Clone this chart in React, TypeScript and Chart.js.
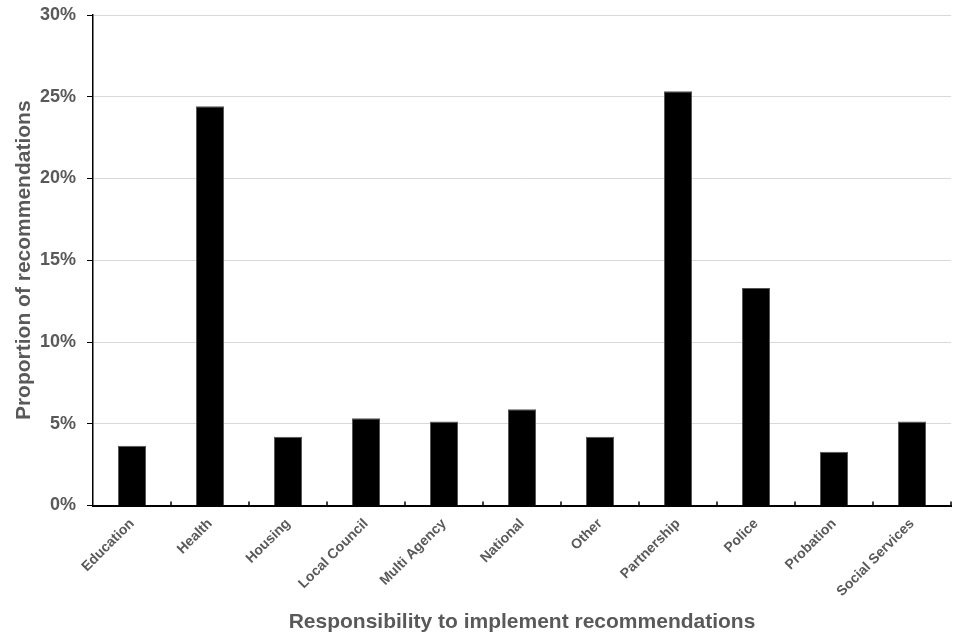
import React, { useEffect, useRef } from "react";
import { Chart, registerables } from "chart.js";

Chart.register(...registerables);

const categories = [
  "Education",
  "Health",
  "Housing",
  "Local Council",
  "Multi Agency",
  "National",
  "Other",
  "Partnership",
  "Police",
  "Probation",
  "Social Services",
];
const proportions = [3.66, 24.42, 4.21, 5.34, 5.13, 5.89, 4.21, 25.34, 13.3, 3.29, 5.13];
const yTicks = [0, 5, 10, 15, 20, 25, 30];
const xTitle = "Responsibility to implement recommendations";
const yTitle = "Proportion of recommendations";

const FONT = "'Liberation Sans', Arial, Helvetica, sans-serif";
const TEXT = "#595959";

const innerTicks = {
  id: "innerTicks",
  afterDatasetsDraw(chart: any) {
    const x = chart.scales.x;
    const ctx = chart.ctx;
    const n = categories.length;
    const step = (x.right - x.left) / n;
    ctx.save();
    ctx.strokeStyle = "#000";
    ctx.lineWidth = 1.5;
    for (let i = 1; i <= n; i++) {
      const px = x.left + i * step;
      ctx.beginPath();
      ctx.moveTo(px, x.top - 4);
      ctx.lineTo(px, x.top);
      ctx.stroke();
    }
    ctx.restore();
  },
};

export default function App() {
  const ref = useRef<HTMLCanvasElement>(null);
  useEffect(() => {
    document.body.style.margin = "0";
    const chart = new Chart(ref.current!, {
      type: "bar",
      data: {
        labels: categories,
        datasets: [
          {
            data: proportions,
            backgroundColor: "#000000",
            borderColor: "#555555",
            borderWidth: 1,
            barPercentage: 0.36,
            categoryPercentage: 1,
          },
        ],
      },
      options: {
        responsive: false,
        animation: false,
        layout: { padding: { top: 15, right: 9, left: 0, bottom: 0 } },
        plugins: { legend: { display: false }, tooltip: { enabled: false } },
        scales: {
          x: {
            grid: { display: false, drawTicks: false },
            border: { display: true, color: "#000", width: 2 },
            ticks: {
              minRotation: 45,
              maxRotation: 45,
              padding: 10,
              color: TEXT,
              font: { family: FONT, size: 14, weight: "bold" },
            },
            title: {
              display: true,
              text: xTitle,
              color: TEXT,
              font: { family: FONT, size: 21, weight: "bold" },
              padding: { top: 4, bottom: 5 },
            },
            afterFit(scale: any) {
              scale.height = 134.5;
              scale.paddingLeft = 0;
              scale.paddingRight = 0;
            },
          },
          y: {
            min: 0,
            max: 30,
            afterBuildTicks(scale: any) {
              scale.ticks = yTicks.map((v) => ({ value: v }));
            },
            grid: {
              color: "#d9d9d9",
              lineWidth: 1,
              tickColor: "#000",
              tickLength: 6,
            },
            border: { display: true, color: "#000", width: 1.5 },
            ticks: {
              padding: 11,
              color: TEXT,
              font: { family: FONT, size: 18, weight: "bold" },
              callback: (v: any) => v + "%",
            },
            title: {
              display: true,
              text: yTitle,
              color: TEXT,
              font: { family: FONT, size: 21, weight: "bold" },
              padding: { top: 12, bottom: 0 },
            },
            afterFit(scale: any) {
              scale.width = 93;
              scale.paddingTop = 0;
              scale.paddingBottom = 0;
            },
          },
        },
      },
      plugins: [innerTicks],
    });
    return () => chart.destroy();
  }, []);
  return <canvas ref={ref} width={960} height={640} />;
}
